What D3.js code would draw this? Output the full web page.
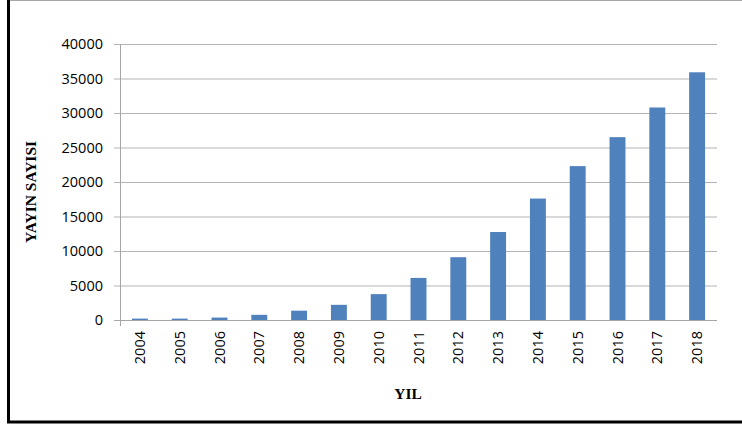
<!DOCTYPE html>
<html>
<head>
<meta charset="utf-8">
<script src="https://cdn.jsdelivr.net/npm/d3@7"></script>
<style>
	body { margin: 0; background: #fff; }
	svg { display: block; }
</style>
</head>
<body>
<div id="chart"></div>
<script>
// chart data
var years = ["2004", "2005", "2006", "2007", "2008", "2009", "2010", "2011",
	"2012", "2013", "2014", "2015", "2016", "2017", "2018"];
var yayinSayisi = [200, 200, 350, 750, 1350, 2200, 3750, 6100,
	9100, 12750, 17600, 22300, 26500, 30800, 35900];
var yTicks = [0, 5000, 10000, 15000, 20000, 25000, 30000, 35000, 40000];

var width = 742, height = 427;
var plot = { left: 120, right: 717, top: 44, bottom: 320 };
var tickFont = "Open Sans, sans-serif";
var titleFont = "Liberation Serif, Times New Roman, serif";

var svg = d3.select("#chart").append("svg")
	.attr("width", width)
	.attr("height", height);

// outer frame: thin grey top, thick black left and bottom
svg.append("line")
	.attr("x1", 9).attr("x2", width).attr("y1", 0.5).attr("y2", 0.5)
	.attr("stroke", "#a6a6a6").attr("stroke-width", 1);
svg.append("line")
	.attr("x1", 8.5).attr("x2", 8.5).attr("y1", 0).attr("y2", 423)
	.attr("stroke", "#000").attr("stroke-width", 3);
svg.append("line")
	.attr("x1", 7).attr("x2", width).attr("y1", 422).attr("y2", 422)
	.attr("stroke", "#000").attr("stroke-width", 3);

var x = d3.scaleBand()
	.domain(years)
	.range([plot.left, plot.right])
	.paddingInner(0.6)
	.paddingOuter(0.3);

var y = d3.scaleLinear()
	.domain([0, 40000])
	.range([plot.bottom, plot.top]);

// gridlines and y ticks
var yAxis = d3.axisLeft(y)
	.tickValues(yTicks)
	.tickSize(-(plot.right - plot.left))
	.tickFormat(d3.format("d"));

var gy = svg.append("g")
	.attr("transform", "translate(" + plot.left + ",0)")
	.call(yAxis);
gy.select(".domain").remove();
gy.selectAll(".tick line")
	.attr("x1", -6)
	.attr("stroke", "#b3b3b3");
gy.selectAll(".tick text")
	.attr("font-family", tickFont)
	.attr("font-size", 14.5)
	.attr("fill", "#000")
	.attr("x", -17);

// axis lines
svg.append("line")
	.attr("x1", plot.left + 0.5).attr("x2", plot.left + 0.5)
	.attr("y1", plot.top).attr("y2", plot.bottom + 6)
	.attr("stroke", "#a6a6a6");
svg.append("line")
	.attr("x1", plot.left - 6).attr("x2", plot.right)
	.attr("y1", plot.bottom + 0.5).attr("y2", plot.bottom + 0.5)
	.attr("stroke", "#a6a6a6");

// bars
svg.append("g").selectAll("rect")
	.data(yayinSayisi)
	.join("rect")
	.attr("x", function (d, i) { return x(years[i]); })
	.attr("width", x.bandwidth())
	.attr("y", function (d) { return y(d); })
	.attr("height", function (d) { return y(0) - y(d); })
	.attr("fill", "#4f81bd");

// x tick labels, rotated
var xAxis = d3.axisBottom(x).tickSize(0).tickPadding(0);
var gx = svg.append("g")
	.attr("transform", "translate(0," + plot.bottom + ")")
	.call(xAxis);
gx.select(".domain").remove();
gx.selectAll(".tick text")
	.attr("font-family", tickFont)
	.attr("font-size", 14.5)
	.attr("fill", "#000")
	.attr("transform", "rotate(-90)")
	.attr("text-anchor", "end")
	.attr("dy", "0.35em")
	.attr("x", -11)
	.attr("y", 0);

// axis titles
svg.append("text")
	.attr("transform", "translate(36,192) rotate(-90)")
	.attr("text-anchor", "middle")
	.attr("font-family", titleFont)
	.attr("font-weight", "bold")
	.attr("font-size", 15.5)
	.text("YAYIN SAYISI");

svg.append("text")
	.attr("x", 408)
	.attr("y", 399)
	.attr("text-anchor", "middle")
	.attr("font-family", titleFont)
	.attr("font-weight", "bold")
	.attr("font-size", 15.5)
	.text("YIL");
</script>
</body>
</html>
